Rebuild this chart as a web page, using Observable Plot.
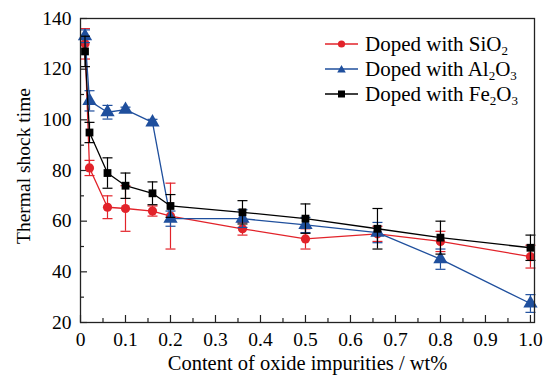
<!DOCTYPE html>
<html><head><meta charset="utf-8">
<script src="https://cdn.jsdelivr.net/npm/d3@7"></script>
<script src="https://cdn.jsdelivr.net/npm/@observablehq/plot@0.6"></script>
<style>
body{margin:0;background:#fff;}
#wrap{position:relative;width:550px;height:378px;font-family:"Liberation Serif",Tinos,"Times New Roman","Nimbus Roman","DejaVu Serif",serif;}
#wrap svg text{font-family:"Liberation Serif",Tinos,"Times New Roman","Nimbus Roman","DejaVu Serif",serif;}
.lg{position:absolute;left:325px;height:26px;display:flex;align-items:center;white-space:nowrap;font-size:21px;color:#000;line-height:26px;}
.lg svg{margin-right:7px;flex:none}
.ytitle{position:absolute;left:24px;top:166px;font-size:19.5px;white-space:nowrap;transform:translate(-50%,-50%) rotate(-90deg);color:#000;line-height:1;}
sub{font-size:0.62em;vertical-align:-0.28em;line-height:0}
</style></head><body><div id="wrap"></div>
<script>
const contents = [0.01, 0.02, 0.06, 0.1, 0.16, 0.2, 0.36, 0.5, 0.66, 0.8, 1.0];
const sio2 = [130, 81, 65.5, 65, 64, 62, 57, 53, 55, 52, 46];
const sio2Err = [6, 3, 4.5, 9, 2, 13, 2.5, 4, 3, 4, 4.5];
const al2o3 = [133, 107.5, 103, 104, 99, 61, 61, 58.5, 55.5, 45, 27.5];
const al2o3Err = [2.5, 4, 2.7, 1, 1.2, 3, 3.5, 3, 4, 4, 3.5];
const fe2o3 = [127, 95, 79, 74, 71, 66, 63.5, 61, 57, 53.5, 49.5];
const fe2o3Err = [6, 4, 6, 5, 4.5, 4.5, 4.6, 5.8, 8, 6.5, 5];
const seriesLabels = ["Doped with SiO<sub>2</sub>", "Doped with Al<sub>2</sub>O<sub>3</sub>", "Doped with Fe<sub>2</sub>O<sub>3</sub>"];
const seriesColors = ["#e2232a", "#1f4f9d", "#000000"];
const seriesSymbols = ["circle", "triangle", "square"];
const xTicks = [0, 0.1, 0.2, 0.3, 0.4, 0.5, 0.6, 0.7, 0.8, 0.9, 1.0];
const xMinor = [0.05, 0.15, 0.25, 0.35, 0.45, 0.55, 0.65, 0.75, 0.85, 0.95];
const yTicks = [20, 40, 60, 80, 100, 120, 140];
const yMinor = [30, 50, 70, 90, 110, 130];
const xTitle = "Content of oxide impurities / wt%";
const yTitle = "Thermal shock time";

const allValues = [sio2, al2o3, fe2o3];
const allErrors = [sio2Err, al2o3Err, fe2o3Err];
const series = allValues.map((vals, s) => contents.map((x, i) => ({x, y: vals[i], lo: vals[i] - allErrors[s][i], hi: vals[i] + allErrors[s][i]})));

const capSymbol = {draw(ctx, size) { const w = Math.sqrt(size / Math.PI); ctx.moveTo(-w, 0); ctx.lineTo(w, 0); }};
const symbolR = {circle: 4.6, triangle: 5.3, square: 4.4};
const FONT = "'Liberation Serif',Tinos,'Times New Roman','Nimbus Roman','DejaVu Serif',serif";

const marks = [];
series.forEach((rows, s) => {
  const c = seriesColors[s];
  marks.push(Plot.ruleX(rows, {x: "x", y1: "lo", y2: "hi", stroke: c, strokeWidth: 1.2}));
  marks.push(Plot.dot(rows, {x: "x", y: "lo", symbol: capSymbol, r: 5, stroke: c, strokeWidth: 1.2, fill: "none"}));
  marks.push(Plot.dot(rows, {x: "x", y: "hi", symbol: capSymbol, r: 5, stroke: c, strokeWidth: 1.2, fill: "none"}));
  marks.push(Plot.line(rows, {x: "x", y: "y", stroke: c, strokeWidth: 1.3}));
  marks.push(Plot.dot(rows, {x: "x", y: "y", symbol: seriesSymbols[s], r: symbolR[seriesSymbols[s]], fill: c, stroke: "none"}));
});

const chart = Plot.plot({
  width: 550, height: 378,
  marginLeft: 80, marginRight: 16, marginTop: 18, marginBottom: 56,
  style: {fontFamily: FONT, fontSize: "19.5px", color: "#000", background: "#fff"},
  x: {domain: [0, 1.009], axis: null},
  y: {domain: [20, 140], axis: null},
  marks: [
    Plot.axisX(xTicks, {anchor: "bottom", tickSize: 0, tickPadding: 9.5, tickFormat: d => d === 0 ? "0" : d.toFixed(1), fontSize: 19.5, label: null}),
    Plot.axisX(xTicks, {anchor: "bottom", tickSize: -7, tickFormat: () => "", label: null, stroke: "#222", strokeWidth: 1.2}),
    Plot.axisX(xMinor, {anchor: "bottom", tickSize: -4, tickFormat: () => "", label: null, stroke: "#222", strokeWidth: 1.2}),
    Plot.axisY(yTicks, {anchor: "left", tickSize: 0, tickPadding: 9, fontSize: 19.5, label: null}),
    Plot.axisY(yTicks, {anchor: "left", tickSize: -7, tickFormat: () => "", label: null, stroke: "#222", strokeWidth: 1.2}),
    Plot.axisY(yMinor, {anchor: "left", tickSize: -4, tickFormat: () => "", label: null, stroke: "#222", strokeWidth: 1.2}),
    Plot.text([xTitle], {frameAnchor: "bottom", dy: 40.5, text: d => d, lineAnchor: "middle", fontSize: 20.5}),
    ...marks,
    Plot.frame({stroke: "#222", strokeWidth: 1.3})
  ]
});
const wrap = document.getElementById("wrap");
wrap.appendChild(chart);

const yt = document.createElement("div");
yt.className = "ytitle";
yt.textContent = yTitle;
wrap.appendChild(yt);

const rowCenters = [44, 69, 94];
seriesLabels.forEach((lab, s) => {
  const div = document.createElement("div");
  div.className = "lg";
  div.style.top = (rowCenters[s] - 13) + "px";
  const c = seriesColors[s];
  let sym;
  if (seriesSymbols[s] === "circle") sym = `<circle cx="16.5" cy="6" r="3.6" fill="${c}"/>`;
  else if (seriesSymbols[s] === "triangle") sym = `<path d="M16.5,2 L20.8,9.5 L12.2,9.5 Z" fill="${c}"/>`;
  else sym = `<rect x="13" y="2.5" width="7" height="7" fill="${c}"/>`;
  div.innerHTML = `<svg width="33" height="12"><line x1="0" y1="6" x2="33" y2="6" stroke="${c}" stroke-width="1.4"/>${sym}</svg><span>${lab}</span>`;
  wrap.appendChild(div);
});
</script></body></html>
